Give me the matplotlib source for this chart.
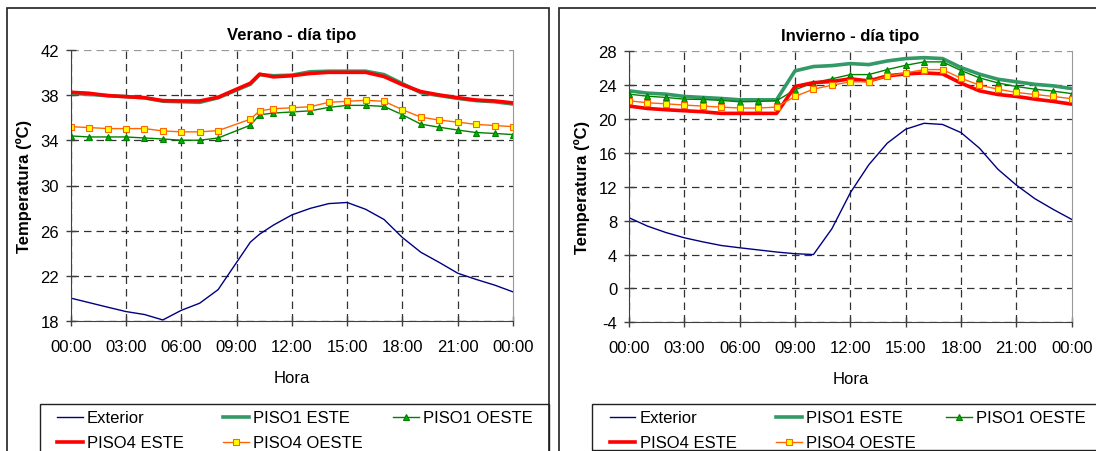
import matplotlib
matplotlib.use("Agg")
import matplotlib.pyplot as plt
from matplotlib.patches import Rectangle

plt.rcParams['font.family'] = ['Liberation Sans', 'DejaVu Sans']
plt.rcParams['axes.unicode_minus'] = False

hour_labels = ["00:00", "03:00", "06:00", "09:00", "12:00", "15:00", "18:00", "21:00", "00:00"]
hour_ticks = [0, 3, 6, 9, 12, 15, 18, 21, 24]
series_names = ['Exterior', 'PISO1 ESTE', 'PISO1 OESTE', 'PISO4 ESTE', 'PISO4 OESTE']

# Verano
ver_h = [0, 1, 2, 3, 4, 5, 6, 7, 8, 9.75, 10.25, 11, 12, 13, 14, 15, 16, 17, 18, 19, 20, 21, 22, 23, 24]
ver_ext = [20.05, 19.65, 19.25, 18.86, 18.6, 18.12, 18.97, 19.6, 20.8, 25.0, 25.7, 26.5, 27.4, 27.98,
           28.4, 28.5, 27.9, 27.0, 25.4, 24.1, 23.2, 22.25, 21.7, 21.2, 20.6]
ver_p1e = [38.15, 38.05, 37.95, 37.85, 37.75, 37.45, 37.4, 37.35, 37.75, 38.95, 39.8, 39.7, 39.75,
           40.05, 40.1, 40.1, 40.1, 39.8, 39.0, 38.2, 37.95, 37.7, 37.5, 37.4, 37.2]
ver_p1o = [34.38, 34.29, 34.29, 34.29, 34.2, 34.11, 34.0, 34.0, 34.2, 35.33, 36.25, 36.4, 36.5, 36.6,
           36.9, 37.08, 37.08, 36.99, 36.25, 35.42, 35.15, 34.9, 34.68, 34.6, 34.5]
ver_p4e = [38.24, 38.15, 37.94, 37.85, 37.76, 37.5, 37.47, 37.47, 37.8, 39.04, 39.84, 39.6, 39.7,
           39.9, 40.0, 40.0, 40.0, 39.63, 38.9, 38.3, 38.0, 37.76, 37.55, 37.47, 37.3]
ver_p4o = [35.2, 35.12, 35.03, 35.03, 35.03, 34.82, 34.74, 34.74, 34.85, 35.86, 36.6, 36.78, 36.87,
           36.96, 37.35, 37.44, 37.53, 37.44, 36.7, 36.04, 35.78, 35.6, 35.4, 35.3, 35.2]

# Invierno
inv_h = list(range(25))
inv_ext = [8.35, 7.36, 6.6, 5.98, 5.5, 5.07, 4.8, 4.55, 4.3, 4.1, 4.0, 7.05, 11.3, 14.6, 17.15,
           18.8, 19.5, 19.36, 18.4, 16.56, 14.07, 12.2, 10.6, 9.33, 8.15]
inv_p1e = [23.33, 23.06, 22.94, 22.67, 22.55, 22.43, 22.27, 22.27, 22.27, 25.69, 26.2, 26.31, 26.55,
           26.43, 26.86, 27.14, 27.25, 27.14, 26.08, 25.3, 24.7, 24.4, 24.1, 23.92, 23.6]
inv_p1o = [22.94, 22.7, 22.55, 22.35, 22.31, 22.2, 22.04, 22.08, 22.16, 23.45, 24.3, 24.75, 25.25,
           25.25, 25.84, 26.35, 26.75, 26.75, 25.73, 24.86, 24.27, 23.84, 23.53, 23.3, 23.0]
inv_p4e = [21.53, 21.25, 21.1, 20.98, 20.86, 20.67, 20.67, 20.67, 20.67, 23.84, 24.3, 24.43, 24.75,
           24.5, 25.1, 25.33, 25.45, 25.33, 24.24, 23.33, 22.9, 22.67, 22.35, 22.08, 21.76]
inv_p4o = [22.16, 21.92, 21.8, 21.65, 21.53, 21.41, 21.3, 21.3, 21.41, 22.67, 23.53, 24.0, 24.4,
           24.4, 25.06, 25.45, 25.84, 25.84, 24.82, 24.0, 23.53, 23.14, 22.9, 22.67, 22.4]

W, H = 1096, 452
fig = plt.figure(figsize=(W / 100, H / 100), dpi=100)


def px(x0, y0, x1, y1):
    return [x0 / W, 1 - y1 / H, (x1 - x0) / W, (y1 - y0) / H]


def box(x0, y0, x1, y1, lw):
    fig.patches.append(Rectangle((x0 / W, 1 - y1 / H), (x1 - x0) / W, (y1 - y0) / H,
                                 transform=fig.transFigure, fill=False,
                                 edgecolor='#202020', lw=lw))


def panel(rect, leg_x, title, h, ext, p1e, p1o, p4e, p4o, yticks):
    ax = fig.add_axes(px(*rect))
    ax.plot(h, ext, color='#000080', lw=1.0, label=series_names[0])
    ax.plot(h, p1e, color='#339966', lw=2.6, label=series_names[1])
    ax.plot(h, p1o, color='#008000', lw=1.0, marker='^', ms=4.5, mfc='#00b000',
            mec='#008000', mew=0.8, label=series_names[2])
    ax.plot(h, p4e, color='#ff0000', lw=2.6, label=series_names[3])
    ax.plot(h, p4o, color='#ff6600', lw=1.0, marker='s', ms=4, mfc='#ffff00',
            mec='#ff6600', mew=0.8, label=series_names[4])
    ax.set_xlim(0, 24)
    ax.set_ylim(yticks[0], yticks[-1])
    ax.set_xticks(hour_ticks)
    ax.set_xticklabels(hour_labels)
    ax.set_yticks(yticks)
    ax.tick_params(direction='inout', length=7, width=1, color='#404040',
                   labelsize=12)
    ax.tick_params(axis='x', pad=9)
    ax.tick_params(axis='y', pad=5)
    ax.grid(True, color='#333333', ls=(0, (6, 4)), lw=0.9)
    ax.yaxis.get_gridlines()[-1].set_color('#999999')
    ax.xaxis.get_gridlines()[-1].set_visible(False)
    ax.spines['top'].set_visible(False)
    ax.spines['right'].set_color('#999999')
    for s in ('left', 'bottom'):
        ax.spines[s].set_color('#404040')
    ax.set_title(title, fontsize=12, fontweight='bold', pad=8)
    ax.set_xlabel('Hora', fontsize=12, labelpad=12)
    ax.set_ylabel('Temperatura (ºC)', fontsize=12, fontweight='bold', labelpad=6)

    hd, lb = ax.get_legend_handles_labels()
    # the first column is padded so the three columns share one width
    lb[3] = lb[3] + '  '
    order = [0, 3, 1, 4, 2]
    fig.legend([hd[i] for i in order], [lb[i] for i in order], ncol=3,
               loc='upper left', bbox_to_anchor=((leg_x + 9.8) / W, 1 - 404 / H, 491 / W, 0),
               mode='expand', fontsize=12, frameon=False, borderaxespad=0,
               handlelength=1.55, handletextpad=0.25, labelspacing=0.6,
               borderpad=0.45)
    return ax


panel((70.7, 50.7, 513, 322.3), 39.7, 'Verano - día tipo', ver_h, ver_ext, ver_p1e, ver_p1o,
      ver_p4e, ver_p4o, [18, 22, 26, 30, 34, 38, 42])
panel((629, 52.3, 1071.7, 323.3), 592.3, 'Invierno - día tipo', inv_h, inv_ext, inv_p1e, inv_p1o,
      inv_p4e, inv_p4o, [-4, 0, 4, 8, 12, 16, 20, 24, 28])

# legend frames and chart-area borders
box(39.7, 404.5, 549, 470, 1.0)
box(592.3, 405, 1120, 451, 1.0)
box(6.5, 9, 549, 480, 1.2)
box(559.3, 9, 1120, 480, 1.2)

fig.savefig('out.png', dpi=100)
